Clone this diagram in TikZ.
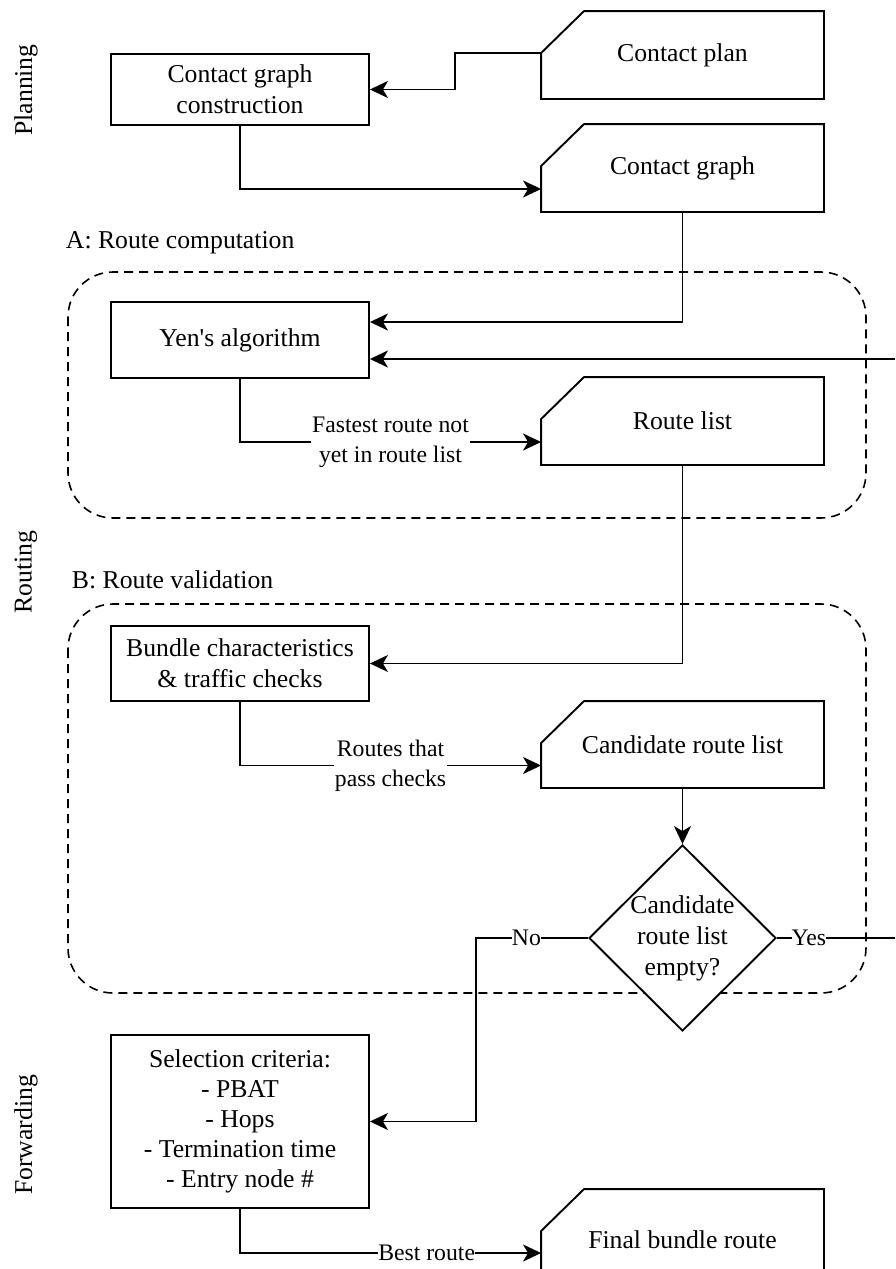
\documentclass[tikz,border=0pt]{standalone}
\usepackage{fontspec}
\setmainfont{Liberation Serif}[Ligatures=TeXOff]
\usetikzlibrary{arrows.meta,shapes.geometric}
\newcommand{\drawchamf}[1]{\draw[line join=miter] ([xshift=43pt]#1.north west) -- (#1.north east) -- (#1.south east) -- (#1.south west) -- ([yshift=-42pt]#1.north west) -- cycle;}
\begin{document}
\begin{tikzpicture}[x=1pt,y=-1pt,
  line width=1.9pt,
  mainfont/.style={font=\fontsize{25.7}{31}\selectfont},
  box/.style={draw, rectangle, minimum width=258pt, inner sep=0pt, align=center, mainfont, fill=white},
  dbox/.style={rectangle, minimum width=281pt, inner sep=0pt, align=center, mainfont},
  dia/.style={draw, diamond, minimum width=187pt, minimum height=186pt, inner sep=-4pt, align=center, mainfont, fill=white},
  arr/.style={-{Stealth[length=18pt,width=17pt,inset=5pt]}},
  elabel/.style={fill=white, inner sep=1pt, align=center, font=\fontsize{23.7}{30}\selectfont},
  group/.style={dash pattern=on 9pt off 6pt, line width=1.6pt, rounded corners=45pt},
  side/.style={mainfont, rotate=90},
  title/.style={mainfont, anchor=west, inner sep=0pt}
]
\useasboundingbox (0,0) rectangle (895,1269);
\clip (0,0) rectangle (895,1269);

% groups
\draw[group] (68,272) rectangle (866,518);
\draw[group] (68,604) rectangle (866,993);

% side labels and titles
\node[side] (lplan) at (26,90) {Planning};
\node[side] (lrout) at (26,572) {Routing};
\node[side] (lfwd) at (26,1135) {Forwarding};
\node[title] (ta) at (65,243) {A: Route computation};
\node[title] (tb) at (71,580) {B: Route validation};

% nodes
\node[box, minimum height=71pt] (cgc) at (240,89.5) {Contact graph\\construction};
\node[dbox, minimum height=86pt] (cplan) at (682.5,55) {Contact plan};
\node[dbox, minimum height=86pt] (cgraph) at (682.5,168) {Contact graph};
\node[box, minimum height=76pt] (yen) at (240,340) {Yen's algorithm};
\node[dbox, minimum height=86pt] (rlist) at (682.5,421) {Route list};
\node[box, minimum height=75pt] (bundle) at (240,663.5) {Bundle characteristics\\\& traffic checks};
\node[dbox, minimum height=85pt] (cand) at (682.5,744.5) {Candidate route list};
\node[dia] (dia) at (682.5,938) {Candidate\\route list\\empty?};
\node[box, minimum height=173pt, font=\fontsize{25.7}{30}\selectfont] (sel) at (240,1121.5) {Selection criteria:\\- PBAT\\- Hops\\- Termination time\\- Entry node \#};
\node[dbox, minimum height=100pt] (final) at (682.5,1240) {Final bundle route};

\drawchamf{cplan}
\drawchamf{cgraph}
\drawchamf{rlist}
\drawchamf{cand}
\drawchamf{final}

\coordinate (loopin) at (895,359);
\coordinate (loopout) at (895,938);

% connectors
\draw[arr] ([yshift=-42pt]cplan.north west) -- ++(-86,0) |- (cgc.east);
\draw[arr] (cgc.south) |- ([yshift=-21pt]cgraph.west);
\draw[arr] (cgraph.south) |- ([yshift=18pt]yen.east);
\draw[arr] (loopin) -- (yen.east |- loopin);
\draw[arr] (yen.south) |- ([yshift=-21pt]rlist.west) node[elabel, pos=0.75] (l1) {Fastest route not\\yet in route list};
\draw[arr] (rlist.south) |- (bundle.east);
\draw[arr] (bundle.south) |- ([yshift=-21pt]cand.west) node[elabel, pos=0.75] (l2) {Routes that\\pass checks};
\draw[arr] (cand.south) -- (dia.north);
\draw[arr] (dia.west) -- ++(-112,0) node[elabel, pos=0.55, inner sep=0pt] (lno) {No} |- (sel.east);
\draw (dia.east) -- (loopout) node[elabel, pos=0.27, inner sep=0pt] (lyes) {Yes};
\draw[arr] (sel.south) |- ([yshift=-13pt]final.west) node[elabel, pos=0.81, inner sep=0pt] (lbest) {Best route};
\end{tikzpicture}
\end{document}
